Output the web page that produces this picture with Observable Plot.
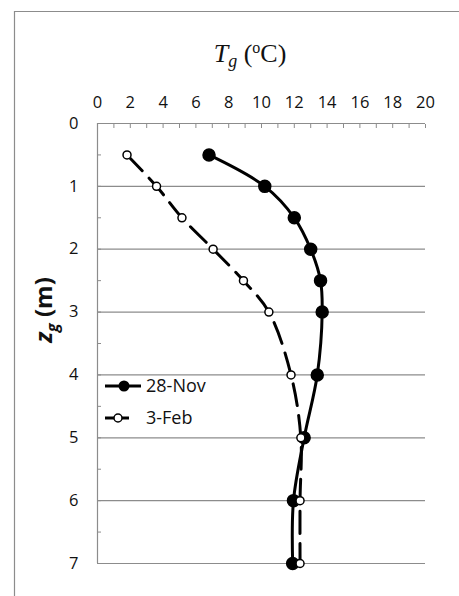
<!DOCTYPE html>
<html>
<head>
<meta charset="utf-8">
<script src="https://cdn.jsdelivr.net/npm/d3@7"></script>
<script src="https://cdn.jsdelivr.net/npm/@observablehq/plot@0.6"></script>
<style>
  html, body { margin: 0; padding: 0; background: #fff; }
  #chart { position: relative; width: 459px; height: 596px; }
</style>
</head>
<body>
<div id="chart"></div>
<script>
// Depth (m)
const depths = [0.5, 1, 1.5, 2, 2.5, 3, 4, 5, 6, 7];
// Ground temperature (°C) per series
const novTemps = [6.8, 10.2, 12.0, 13.0, 13.6, 13.7, 13.4, 12.6, 11.95, 11.9];
const febTemps = [1.8, 3.6, 5.15, 7.05, 8.9, 10.45, 11.8, 12.4, 12.35, 12.35];
const seriesNames = ["28-Nov", "3-Feb"];
const xTicks = [0, 2, 4, 6, 8, 10, 12, 14, 16, 18, 20];
const yTicks = [0, 1, 2, 3, 4, 5, 6, 7];

const nov = depths.map((z, i) => ({z, t: novTemps[i]}));
const feb = depths.map((z, i) => ({z, t: febTemps[i]}));

const font = "'Open Sans', 'Noto Sans', sans-serif";
const grey = "#8c8c8c";
const fs = 16.5;
const lfs = 18;

const plot = Plot.plot({
  width: 459,
  height: 596,
  marginTop: 123,
  marginBottom: 33,
  marginLeft: 97,
  marginRight: 34,
  style: {fontFamily: font, fontSize: fs + "px", color: "#111", background: "#fff"},
  x: {domain: [0, 20]},
  y: {domain: [0, 7], reverse: true},
  marks: [
    Plot.ruleY(yTicks.slice(1), {stroke: grey, strokeWidth: 1.2}),
    Plot.ruleY([0], {stroke: grey, strokeWidth: 1.2}),
    Plot.ruleX([0], {stroke: grey, strokeWidth: 1.2}),
    Plot.axisX({anchor: "top", ticks: d3.range(0, 20.01, 1), tickSize: -4, tickFormat: () => "", stroke: grey, label: null}),
    Plot.axisX({anchor: "top", ticks: xTicks, tickSize: 0, tickPadding: 16, tickFormat: d3.format("d"), label: null, fill: "#111", fontSize: fs}),
    Plot.axisY({anchor: "left", ticks: d3.range(0, 7.01, 0.5), tickSize: -4, tickFormat: () => "", stroke: grey, label: null}),
    Plot.axisY({anchor: "left", ticks: yTicks, tickSize: 0, tickPadding: 19, tickFormat: d3.format("d"), label: null, fill: "#111", fontSize: fs}),
    Plot.line(nov, {x: "t", y: "z", stroke: "#000", strokeWidth: 3, curve: "catmull-rom"}),
    Plot.dot(nov, {x: "t", y: "z", r: 6, fill: "#000", stroke: "#000"}),
    Plot.line(feb, {x: "t", y: "z", stroke: "#000", strokeWidth: 3, strokeDasharray: "22,10", curve: "catmull-rom"}),
    Plot.dot(feb, {x: "t", y: "z", r: 4, fill: "#fff", stroke: "#000", strokeWidth: 1.5})
  ]
});

const svg = d3.select(plot);

// outer chart-area border
svg.append("path")
  .attr("d", "M14.5,596 V11.5 H459")
  .attr("fill", "none").attr("stroke", grey).attr("stroke-width", 1.2);

// X title: T_g (ºC)
const xt = svg.append("text")
  .attr("x", 250).attr("y", 62)
  .attr("text-anchor", "middle")
  .attr("font-family", "'Liberation Serif', 'DejaVu Serif', serif")
  .attr("font-size", 26).attr("fill", "#111");
xt.append("tspan").attr("font-style", "italic").text("T");
xt.append("tspan").attr("font-style", "italic").attr("font-size", 18).attr("dy", 5).text("g");
xt.append("tspan").attr("dy", -5).text(" (");
xt.append("tspan").attr("font-size", 16).attr("dy", -9).text("o");
xt.append("tspan").attr("dy", 9).text("C)");

// Y title: z_g (m)
const yt = svg.append("text")
  .attr("transform", "translate(52,310) rotate(-90)")
  .attr("text-anchor", "middle")
  .attr("font-family", font)
  .attr("font-weight", "bold")
  .attr("font-size", 24).attr("fill", "#111");
yt.append("tspan").attr("font-style", "italic").text("z");
yt.append("tspan").attr("font-style", "italic").attr("font-size", 16).attr("dy", 6).text("g");
yt.append("tspan").attr("dy", -6).text(" (m)");

// Legend
const lg = svg.append("g").attr("font-family", font).attr("font-size", lfs)
  .attr("text-anchor", "start").attr("fill", "#111");
lg.append("line").attr("x1", 105).attr("x2", 141).attr("y1", 386).attr("y2", 386)
  .attr("stroke", "#000").attr("stroke-width", 3);
lg.append("circle").attr("cx", 124).attr("cy", 386).attr("r", 5.5).attr("fill", "#000");
lg.append("text").attr("x", 146).attr("y", 392).text(seriesNames[0]);
lg.append("line").attr("x1", 105).attr("x2", 129).attr("y1", 418).attr("y2", 418)
  .attr("stroke", "#000").attr("stroke-width", 3);
lg.append("circle").attr("cx", 118).attr("cy", 418).attr("r", 4).attr("fill", "#fff")
  .attr("stroke", "#000").attr("stroke-width", 1.5);
lg.append("text").attr("x", 146).attr("y", 424).text(seriesNames[1]);

document.getElementById("chart").appendChild(plot);
</script>
</body>
</html>
